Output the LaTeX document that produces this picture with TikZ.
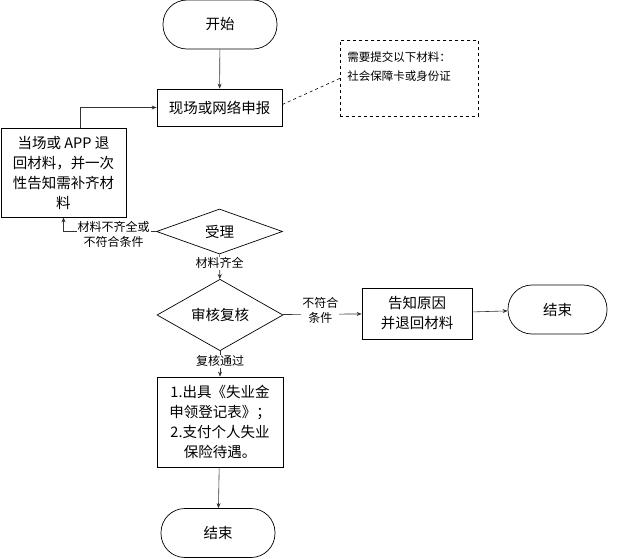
\documentclass[tikz,border=0pt]{standalone}
\usepackage{fontspec}
\setmainfont{Noto Sans CJK SC}
\usetikzlibrary{positioning, arrows.meta, shapes.geometric}

\begin{document}
\begin{tikzpicture}[
    x=1pt, y=-1pt,
    every node/.style={font=\fontsize{14.5}{20}\selectfont, align=center, inner sep=2pt},
    terminal/.style={draw, rectangle, line width=0.7pt, rounded corners=24pt, minimum width=114pt, minimum height=49pt},
    process/.style={draw, rectangle, line width=0.8pt},
    decision/.style={draw, diamond, line width=0.7pt, inner sep=0pt, minimum width=126pt, minimum height=45pt},
    note/.style={draw, dashed, line width=0.7pt, anchor=north west, align=left, minimum width=138pt, minimum height=76pt, text width=124pt, inner xsep=7pt, inner ysep=4pt, font=\fontsize{11.5}{19}\selectfont, text depth=44pt},
    lbl/.style={fill=white, font=\fontsize{12}{15}\selectfont, inner sep=1pt},
    arrow/.style={-{Stealth[length=5pt, width=4pt]}, line width=0.6pt, draw=black!80}
]
\useasboundingbox (0,0) rectangle (622,559);

\node[terminal] (1) at (220,24.5) {开始};
\node[process, minimum width=125pt, minimum height=37pt] (2) at (219.5,107.5) {现场或网络申报};
\node[note] (n) at (340,40) {需要提交以下材料：\\社会保障卡或身份证};
\node[process, minimum width=125pt, minimum height=89pt] (3) at (63.5,172.5) {当场或 APP 退\\回材料，并一次\\性告知需补齐材\\料};
\node[decision] (4) at (219.5,231.5) {受理};
\node[decision] (5) at (220,315) {审核复核};
\node[process, minimum width=110pt, minimum height=51pt] (6) at (417,313.5) {告知原因\\并退回材料};
\node[terminal, minimum width=99pt] (7) at (557.5,309.5) {结束};
\node[process, minimum width=126pt, minimum height=90pt] (8) at (220,422) {1.出具《失业金\\申领登记表》；\\2.支付个人失业\\保险待遇。};
\node[terminal] (9) at (218,533) {结束};

\draw[arrow] (1) -- (2);
\draw[dashed, line width=0.6pt] ([yshift=3pt]2.east) -- (n.west);
\draw[arrow] ([xshift=17pt]3.north) |- (2.west);
\draw[arrow] (4.west) -| (3.south) node[lbl, pos=0.23, yshift=-2.5pt] {材料不齐全或\\不符合条件};
\draw[arrow] (4) -- (5) node[lbl, pos=0.36] {材料齐全};
\draw[arrow] (5) -- (6) node[lbl, pos=0.48, yshift=4pt] {不符合\\条件};
\draw[arrow] (6) -- (7);
\draw[arrow] (5) -- (8) node[lbl, pos=0.4] {复核通过};
\draw[arrow] (8) -- (9);
\end{tikzpicture}
\end{document}
